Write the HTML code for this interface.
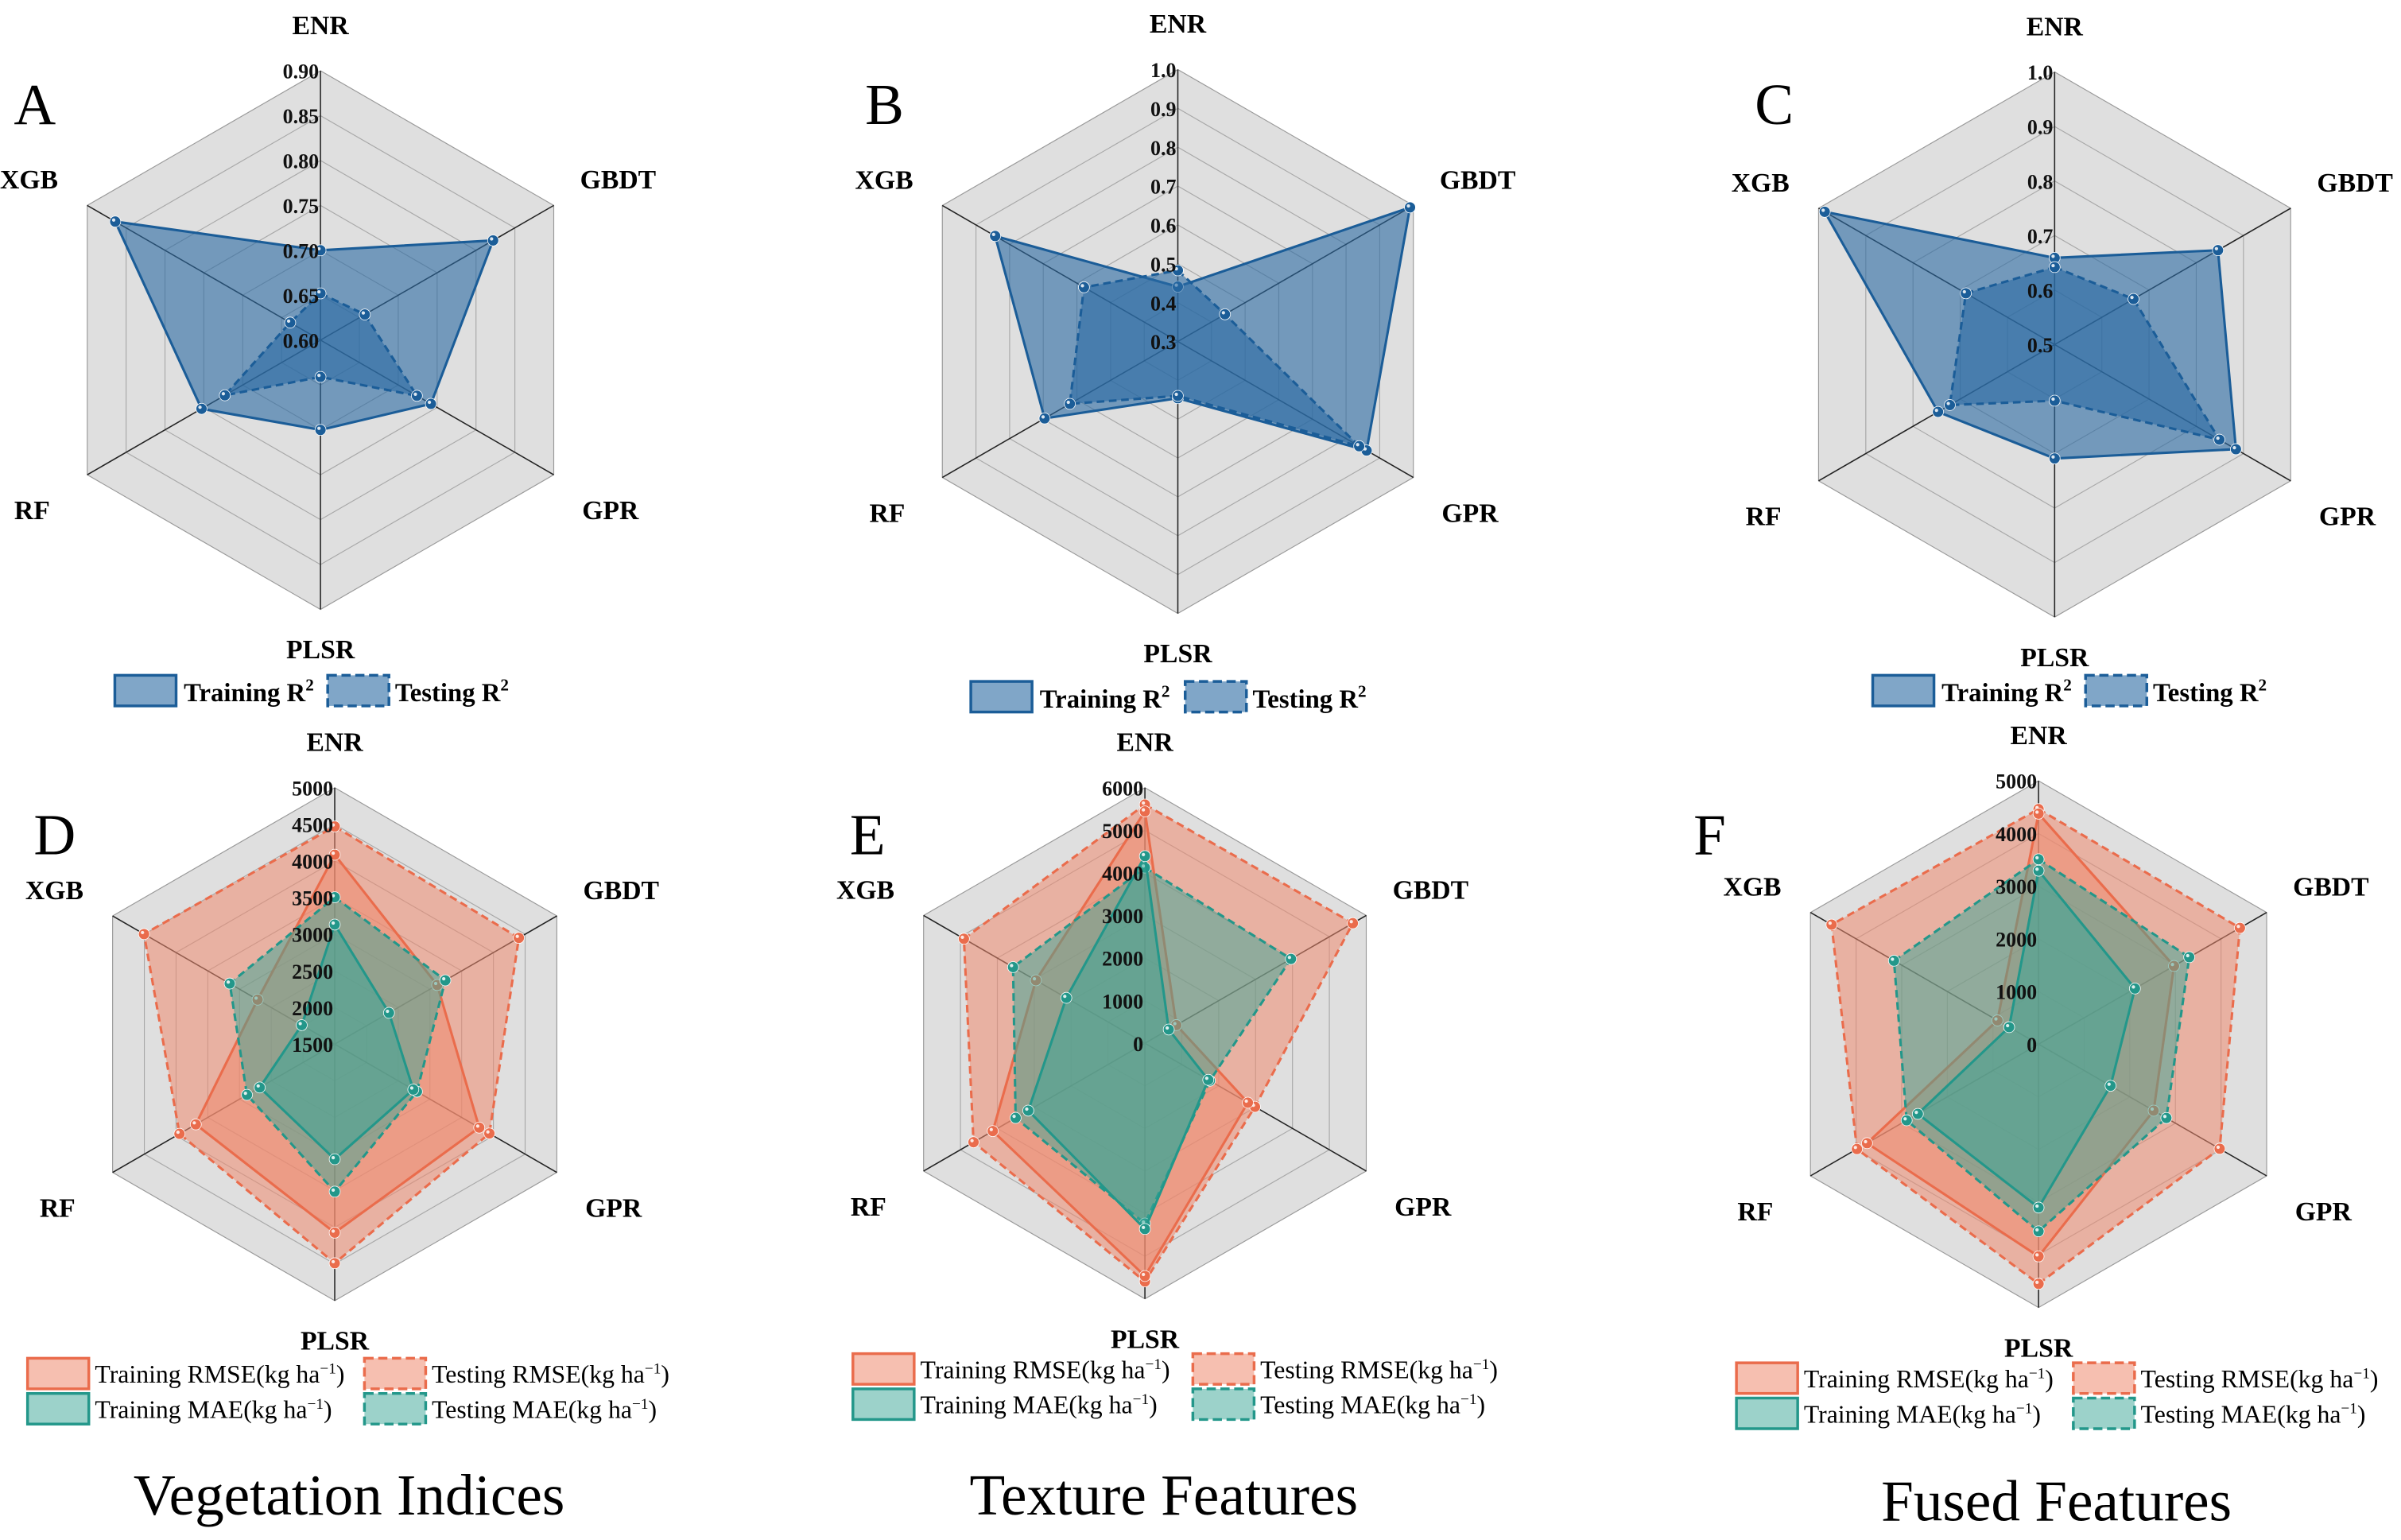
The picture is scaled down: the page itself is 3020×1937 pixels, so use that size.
<!DOCTYPE html>
<html><head><meta charset="utf-8"><style>
html,body{margin:0;padding:0;background:#fff;}
svg{display:block;}
text{font-family:"Liberation Serif",serif;}
</style></head><body>
<svg id="fig" xmlns="http://www.w3.org/2000/svg" width="3020" height="1937" viewBox="0 0 1568 1005.7" preserveAspectRatio="none">
<rect x="0" y="0" width="1568" height="1006" fill="#fff"/>
<text x="228" y="989" font-size="38" text-anchor="middle">Vegetation Indices</text>
<text x="760" y="989" font-size="38" text-anchor="middle">Texture Features</text>
<text x="1343" y="993" font-size="38" text-anchor="middle">Fused Features</text>
</svg>
<script>
const categories = ["ENR","GBDT","GPR","PLSR","RF","XGB"];
// Panel A (R2, vegetation indices)
const aTicks = ["0.60","0.65","0.70","0.75","0.80","0.85","0.90"];
const aTrain = [0.70,0.822,0.742,0.70,0.753,0.864];
const aTest  = [0.652,0.657,0.724,0.641,0.723,0.639];
// Panel B (R2, texture)
const bTicks = ["0.3","0.4","0.5","0.6","0.7","0.8","0.9","1.0"];
const bTrain = [0.441,0.99,0.861,0.446,0.696,0.843];
const bTest  = [0.483,0.44,0.839,0.44,0.621,0.579];
// Panel C (R2, fused)
const cTicks = ["0.5","0.6","0.7","0.8","0.9","1.0"];
const cTrain = [0.659,0.846,0.884,0.709,0.747,0.987];
const cTest  = [0.642,0.667,0.849,0.603,0.722,0.688];
// Panel D (errors, vegetation indices)
const dTicks = ["1500","2000","2500","3000","3500","4000","4500","5000"];
const dTrainRMSE = [4085,3115,3777,4072,3689,2715];
const dTestRMSE  = [4471,4401,3937,4489,3946,4505];
const dTrainMAE  = [3132,2355,2738,3070,2682,2020];
const dTestMAE   = [3505,3242,2795,3512,2883,3154];
// Panel E (errors, texture)
const eTicks = ["0","1000","2000","3000","4000","5000","6000"];
const eTrainRMSE = [5443,852,2790,5464,4124,2955];
const eTestRMSE  = [5604,5636,2983,5593,4646,4907];
const eTrainMAE  = [4393,646,1718,4361,3162,2131];
const eTestMAE   = [4125,3959,1759,4232,3505,3574];
// Panel F (errors, fused)
const fTicks = ["0","1000","2000","3000","4000","5000"];
const fTrainRMSE = [4376,2969,2524,4029,3759,901];
const fTestRMSE  = [4463,4414,3970,4549,3981,4537];
const fTrainMAE  = [3293,2113,1579,3102,2646,645];
const fTestMAE   = [3510,3303,2802,3553,2891,3169];

const NS="http://www.w3.org/2000/svg";
const svg=document.getElementById('fig');
function mk(tag,attrs,parent){const e=document.createElementNS(NS,tag);for(const k in attrs)e.setAttribute(k,attrs[k]);(parent||svg).appendChild(e);return e;}
const angles=[-90,-30,30,90,150,210].map(a=>a*Math.PI/180);

function panel(p){
  const g=mk('g',{});
  
  
  const {cx,cy,R}=p;
  const n=p.ticks.length-1;
  const vmin=parseFloat(p.ticks[0]), vmax=parseFloat(p.ticks[n]);
  const rScale=v=>(v-vmin)/(vmax-vmin)*R;
  const pt=(i,r)=>[cx+r*Math.cos(angles[i]),cy+r*Math.sin(angles[i])];
  const hex=r=>angles.map((a,i)=>pt(i,r).join(',')).join(' ');
  const bg=mk('polygon',{points:hex(R),fill:'#dfdfdf',stroke:'#999','stroke-width':0.6},g);
  
  
  for(let k=1;k<n;k++){
    const ring=mk('polygon',{points:hex(R*k/n),fill:'none',stroke:'#a8a8a8','stroke-width':0.6},g);
    
    
  }
  for(let i=0;i<6;i++){
    const [x,y]=pt(i,R);
    const sp=mk('line',{x1:cx,y1:cy,x2:x,y2:y,stroke:'#222','stroke-width':0.8},g);
    
    
  }
  p.series.forEach(s=>{
    const pts=s.vals.map((v,i)=>pt(i,rScale(v)));
    const poly=mk('polygon',{points:pts.map(q=>q.join(',')).join(' '),fill:s.fill,'fill-opacity':s.op,stroke:s.stroke,'stroke-width':1.6,'stroke-dasharray':s.dash?'5,3':'none','stroke-linejoin':'round'},g);
    
    
    pts.forEach((q,i)=>{
      const c=mk('circle',{cx:q[0],cy:q[1],r:3.6,fill:s.stroke,stroke:'#fff','stroke-width':0.4},g);
      
      
      mk('circle',{cx:q[0]-1,cy:q[1]-1,r:1.1,fill:'#fff','fill-opacity':0.85},g);
    });
  });
  p.ticks.forEach((t,k)=>{
    const tl=mk('text',{x:cx-1,y:cy-R*k/n+5,'font-size':p.tfs,'font-weight':'bold','text-anchor':'end',fill:'#111'},g);
    tl.textContent=t;
    
    
  });
  const off=[[0,-R-24],[0.866*R+42,-0.5*R-11],[0.866*R+37,0.5*R+29],[0,R+32],[-0.866*R-36,0.5*R+29],[-0.866*R-38,-0.5*R-11]];
  categories.forEach((c,i)=>{
    const tx=mk('text',{x:cx+off[i][0],y:cy+off[i][1],'font-size':17.5,'font-weight':'bold','text-anchor':'middle'},g);
    tx.textContent=c;
    
    
  });
  const L=mk('text',{x:p.lx,y:p.ly,'font-size':38},g);
  L.textContent=p.letter;
  
  
}

const blue='#1b5d98', blueF='#2b6aa3';
const red='#ea6c4c', redF='#ee8a70', teal='#23978a', tealF='#3aa596';

function r2Series(tr,te){return [
  {name:'training-r2',vals:tr,fill:blueF,op:0.6,stroke:blue,dash:false},
  {name:'testing-r2',vals:te,fill:blueF,op:0.6,stroke:blue,dash:true}];}
function errSeries(trR,teR,trM,teM){return [
  {name:'testing-rmse',vals:teR,fill:redF,op:0.55,stroke:red,dash:true},
  {name:'training-rmse',vals:trR,fill:redF,op:0.55,stroke:red,dash:false},
  {name:'testing-mae',vals:teM,fill:tealF,op:0.5,stroke:teal,dash:true},
  {name:'training-mae',vals:trM,fill:tealF,op:0.5,stroke:teal,dash:false}];}

panel({letter:'A',cx:209.3,cy:222.1,R:175.9,ticks:aTicks,tfs:13.5,lx:9,ly:81,series:r2Series(aTrain,aTest)});
panel({letter:'B',cx:769.2,cy:223.0,R:177.6,ticks:bTicks,tfs:13.5,lx:565,ly:81,series:r2Series(bTrain,bTest)});
panel({letter:'C',cx:1341.8,cy:225.0,R:178.0,ticks:cTicks,tfs:13.5,lx:1146,ly:81,series:r2Series(cTrain,cTest)});
panel({letter:'D',cx:218.6,cy:681.9,R:167.5,ticks:dTicks,tfs:13.5,lx:22,ly:558,series:errSeries(dTrainRMSE,dTestRMSE,dTrainMAE,dTestMAE)});
panel({letter:'E',cx:747.7,cy:681.3,R:166.9,ticks:eTicks,tfs:13.5,lx:555,ly:558,series:errSeries(eTrainRMSE,eTestRMSE,eTrainMAE,eTestMAE)});
panel({letter:'F',cx:1331.3,cy:681.9,R:172.0,ticks:fTicks,tfs:13.5,lx:1106,ly:558,series:errSeries(fTrainRMSE,fTestRMSE,fTrainMAE,fTestMAE)});

function legendBox(x,y,fill,op,stroke,dash,name){
  const r=mk('rect',{x:x,y:y,width:40,height:20,fill:fill,'fill-opacity':op,stroke:stroke,'stroke-width':1.8,'stroke-dasharray':dash?'6,3':'none'});
  
  
}
function r2Legend(x1,x2,y){
  legendBox(x1,y,blueF,0.6,blue,false,'legend-swatch-training-r2');
  let t=mk('text',{x:x1+45,y:y+17,'font-size':17,'font-weight':'bold'});
  t.innerHTML='Training R<tspan dy="-7" font-size="11">2</tspan>';
  
  
  legendBox(x2,y,blueF,0.6,blue,true,'legend-swatch-testing-r2');
  t=mk('text',{x:x2+44,y:y+17,'font-size':17,'font-weight':'bold'});
  t.innerHTML='Testing R<tspan dy="-7" font-size="11">2</tspan>';
  
  
}
r2Legend(75,214,441);
r2Legend(634,774,445);
r2Legend(1223,1362,441);

function errLegend(x1,x2,y){
  const items=[[x1,y,redF,0.55,red,false,'Training RMSE','training-rmse'],[x2,y,redF,0.55,red,true,'Testing RMSE','testing-rmse'],
               [x1,y+23,tealF,0.5,teal,false,'Training MAE','training-mae'],[x2,y+23,tealF,0.5,teal,true,'Testing MAE','testing-mae']];
  items.forEach(it=>{
    legendBox(it[0],it[1],it[2],it[3],it[4],it[5],'legend-swatch-'+it[7]);
    const t=mk('text',{x:it[0]+44,y:it[1]+16,'font-size':16.5});
    t.innerHTML=it[6]+'(kg ha<tspan dy="-6" font-size="10">−1</tspan><tspan dy="6">)</tspan>';
    
    
  });
}
errLegend(18,238,887);
errLegend(557,779,884);
errLegend(1134,1354,890);
</script>
</body></html>
